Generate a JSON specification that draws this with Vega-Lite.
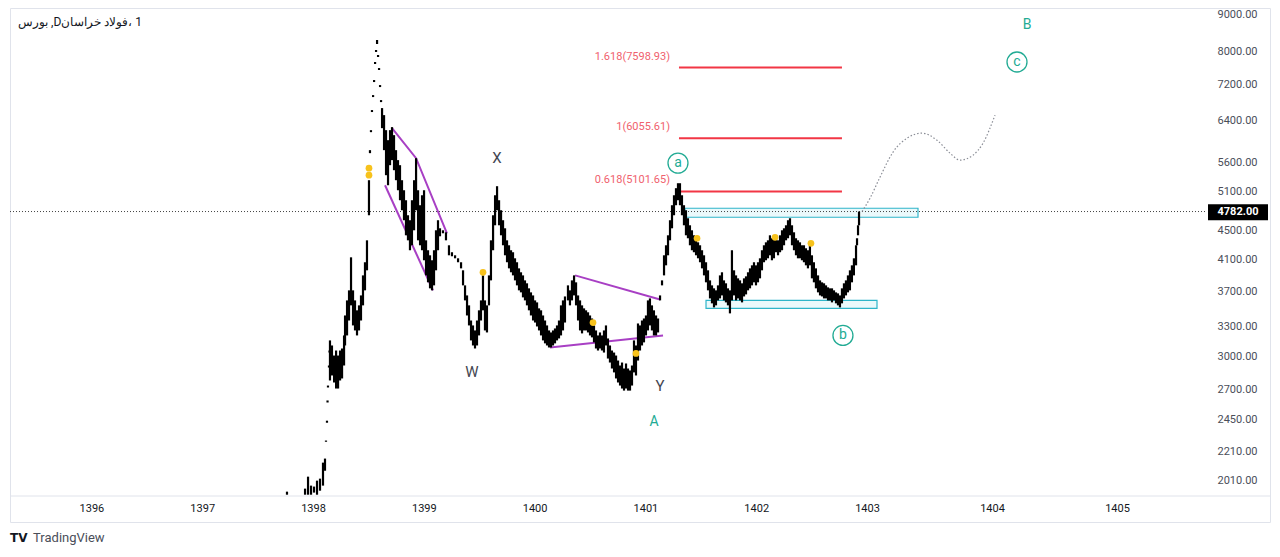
{
  "$schema": "https://vega.github.io/schema/vega-lite/v6.json",
  "width": 1260,
  "height": 514,
  "autosize": {"type": "none"},
  "padding": {"left": 10, "top": 8, "right": 10, "bottom": 35},
  "background": "white",
  "view": {"stroke": "#e0e3eb"},
  "config": {"font": "Roboto"},
  "encoding": {
    "x": {
      "field": "t", "type": "quantitative",
      "scale": {"domain": [1395.265, 1403, 1405.704], "range": [0, 857, 1195], "zero": false, "nice": false},
      "axis": {"title": null, "orient": "bottom", "offset": -26, "values": [1396, 1397, 1398, 1399, 1400, 1401, 1402, 1403, 1404, 1405], "format": "d", "grid": false, "ticks": false, "tickSize": 0, "domain": false, "labelPadding": 6, "labelFontSize": 11, "labelColor": "#131722"}
    },
    "y": {
      "field": "p", "type": "quantitative",
      "scale": {"type": "log", "domain": [1915, 9204], "range": [488, 0], "nice": false},
      "axis": {"title": null, "orient": "right", "offset": -65, "values": [2010, 2210, 2450, 2700, 3000, 3300, 3700, 4100, 4500, 5100, 5600, 6400, 7200, 8000, 9000], "format": ".2f", "grid": false, "ticks": false, "tickSize": 0, "domain": false, "labelPadding": 12, "labelFontSize": 11, "labelColor": "#4a4e59"}
    }
  },
  "layer": [
    {
      "data": {"values": [{"t": 1395.265, "t2": 1406.224, "p": 1915}]},
      "mark": {"type": "rule", "color": "#e0e3eb", "strokeWidth": 1},
      "encoding": {"x2": {"field": "t2"}}
    },
    {
      "data": {"values": [
        {"t": 1401.357, "t2": 1403.408, "p": 4833, "p2": 4695},
        {"t": 1401.547, "t2": 1403.080, "p": 3593, "p2": 3502}
      ]},
      "mark": {"type": "rect", "fill": "#e6f7fa", "fillOpacity": 0.8, "stroke": "#2fb5c9", "strokeWidth": 1.2},
      "encoding": {"x2": {"field": "t2"}, "y2": {"field": "p2"}}
    },
    {
      "data": {"values": [{"t": 1395.265, "t2": 1405.704, "p": 4782}]},
      "mark": {"type": "rule", "color": "#444", "strokeWidth": 1, "strokeDash": [1, 2]},
      "encoding": {"x2": {"field": "t2"}}
    },
    {
      "data": {"values": [
        {"t": 1401.303, "t2": 1402.774, "p": 7598.93},
        {"t": 1401.303, "t2": 1402.774, "p": 6055.61},
        {"t": 1401.303, "t2": 1402.774, "p": 5101.65}
      ]},
      "mark": {"type": "rule", "color": "#f23645", "strokeWidth": 2},
      "encoding": {"x2": {"field": "t2"}}
    },
    {
      "data": {"values": [
        {"t": 1401.222, "p": 7598.93, "label": "1.618(7598.93)"},
        {"t": 1401.222, "p": 6055.61, "label": "1(6055.61)"},
        {"t": 1401.222, "p": 5101.65, "label": "0.618(5101.65)"}
      ]},
      "mark": {"type": "text", "align": "right", "baseline": "middle", "dy": -11, "fontSize": 11, "color": "#f0616d"},
      "encoding": {"text": {"field": "label"}}
    },
    {
      "data": {"values": [
        {"g": "u", "t": 1398.713, "p": 6253},
        {"g": "u", "t": 1398.930, "p": 5678},
        {"g": "u", "t": 1399.209, "p": 4459},
        {"g": "l", "t": 1398.650, "p": 5204},
        {"g": "l", "t": 1399.083, "p": 3711},
        {"g": "tu", "t": 1400.365, "p": 3894},
        {"g": "tu", "t": 1401.132, "p": 3604},
        {"g": "tl", "t": 1400.139, "p": 3088},
        {"g": "tl", "t": 1401.159, "p": 3210}
      ]},
      "mark": {"type": "line", "color": "#a83fc4", "strokeWidth": 2},
      "encoding": {"detail": {"field": "g"}}
    },
    {
      "data": {"values": [
        {"t": 1397.765, "p": 1942, "p2": 1923},
        {"t": 1397.928, "p": 1961, "p2": 1923},
        {"t": 1397.955, "p": 2038, "p2": 1923},
        {"t": 1397.982, "p": 1980, "p2": 1923},
        {"t": 1398.009, "p": 1974, "p2": 1936},
        {"t": 1398.036, "p": 2012, "p2": 1923},
        {"t": 1398.063, "p": 2025, "p2": 1948},
        {"t": 1398.090, "p": 2132, "p2": 1980},
        {"t": 1398.108, "p": 2160, "p2": 2077},
        {"t": 1398.117, "p": 2289, "p2": 2280},
        {"t": 1398.126, "p": 2440, "p2": 2424},
        {"t": 1398.131, "p": 2604, "p2": 2587},
        {"t": 1398.135, "p": 2732, "p2": 2715},
        {"t": 1398.144, "p": 2914, "p2": 2895},
        {"t": 1398.149, "p": 3058, "p2": 3038},
        {"t": 1398.153, "p": 3159, "p2": 2777},
        {"t": 1398.171, "p": 3108, "p2": 2822},
        {"t": 1398.190, "p": 3009, "p2": 2759},
        {"t": 1398.208, "p": 3058, "p2": 2706},
        {"t": 1398.226, "p": 3009, "p2": 2706},
        {"t": 1398.244, "p": 3058, "p2": 2777},
        {"t": 1398.262, "p": 3078, "p2": 2795},
        {"t": 1398.280, "p": 3210, "p2": 2914},
        {"t": 1398.289, "p": 3423, "p2": 3108},
        {"t": 1398.307, "p": 3593, "p2": 3210},
        {"t": 1398.325, "p": 3711, "p2": 3368},
        {"t": 1398.343, "p": 4127, "p2": 3536},
        {"t": 1398.361, "p": 3711, "p2": 3315},
        {"t": 1398.379, "p": 3593, "p2": 3262},
        {"t": 1398.397, "p": 3480, "p2": 3210},
        {"t": 1398.415, "p": 3536, "p2": 3262},
        {"t": 1398.433, "p": 3651, "p2": 3368},
        {"t": 1398.451, "p": 3894, "p2": 3536},
        {"t": 1398.469, "p": 4062, "p2": 3711},
        {"t": 1398.487, "p": 4359, "p2": 3958},
        {"t": 1398.505, "p": 5289, "p2": 4725},
        {"t": 1398.514, "p": 5826, "p2": 5770},
        {"t": 1398.523, "p": 6213, "p2": 6173},
        {"t": 1398.532, "p": 6628, "p2": 6586},
        {"t": 1398.542, "p": 6955, "p2": 6911},
        {"t": 1398.551, "p": 7300, "p2": 7253},
        {"t": 1398.560, "p": 7736, "p2": 7686},
        {"t": 1398.569, "p": 8041, "p2": 7990},
        {"t": 1398.578, "p": 8304, "p2": 8198},
        {"t": 1398.587, "p": 7912, "p2": 7861},
        {"t": 1398.596, "p": 7587, "p2": 7539},
        {"t": 1398.605, "p": 7183, "p2": 7137},
        {"t": 1398.614, "p": 6844, "p2": 6800},
        {"t": 1398.623, "p": 6670, "p2": 6253},
        {"t": 1398.641, "p": 6521, "p2": 5826},
        {"t": 1398.659, "p": 6213, "p2": 5375},
        {"t": 1398.677, "p": 6016, "p2": 5204},
        {"t": 1398.695, "p": 6213, "p2": 5551},
        {"t": 1398.713, "p": 6274, "p2": 5642},
        {"t": 1398.731, "p": 6114, "p2": 5462},
        {"t": 1398.749, "p": 5826, "p2": 5289},
        {"t": 1398.767, "p": 5642, "p2": 5121},
        {"t": 1398.785, "p": 5551, "p2": 4959},
        {"t": 1398.803, "p": 5289, "p2": 4802},
        {"t": 1398.821, "p": 5121, "p2": 4650},
        {"t": 1398.839, "p": 4959, "p2": 4430},
        {"t": 1398.857, "p": 4725, "p2": 4359},
        {"t": 1398.875, "p": 4650, "p2": 4222},
        {"t": 1398.893, "p": 4959, "p2": 4290},
        {"t": 1398.912, "p": 5289, "p2": 4502},
        {"t": 1398.930, "p": 5678, "p2": 4802},
        {"t": 1398.948, "p": 5121, "p2": 4359},
        {"t": 1398.966, "p": 4880, "p2": 4290},
        {"t": 1398.984, "p": 5039, "p2": 4222},
        {"t": 1399.002, "p": 5121, "p2": 4088},
        {"t": 1399.020, "p": 4359, "p2": 3894},
        {"t": 1399.038, "p": 4222, "p2": 3808},
        {"t": 1399.056, "p": 4154, "p2": 3735},
        {"t": 1399.074, "p": 4088, "p2": 3711},
        {"t": 1399.092, "p": 4222, "p2": 3771},
        {"t": 1399.110, "p": 4502, "p2": 3958},
        {"t": 1399.128, "p": 4650, "p2": 4222},
        {"t": 1399.146, "p": 4531, "p2": 4416},
        {"t": 1399.173, "p": 4502, "p2": 4459},
        {"t": 1399.200, "p": 4473, "p2": 4359},
        {"t": 1399.227, "p": 4290, "p2": 4154},
        {"t": 1399.254, "p": 4195, "p2": 4141},
        {"t": 1399.282, "p": 4154, "p2": 4114},
        {"t": 1399.309, "p": 4114, "p2": 4062},
        {"t": 1399.336, "p": 4062, "p2": 3983},
        {"t": 1399.354, "p": 3958, "p2": 3771},
        {"t": 1399.372, "p": 3771, "p2": 3593},
        {"t": 1399.390, "p": 3651, "p2": 3423},
        {"t": 1399.408, "p": 3536, "p2": 3315},
        {"t": 1399.426, "p": 3368, "p2": 3159},
        {"t": 1399.444, "p": 3315, "p2": 3108},
        {"t": 1399.462, "p": 3262, "p2": 3078},
        {"t": 1399.480, "p": 3368, "p2": 3108},
        {"t": 1399.498, "p": 3480, "p2": 3210},
        {"t": 1399.516, "p": 3593, "p2": 3368},
        {"t": 1399.534, "p": 3894, "p2": 3480},
        {"t": 1399.552, "p": 3593, "p2": 3262},
        {"t": 1399.570, "p": 3536, "p2": 3241},
        {"t": 1399.588, "p": 3894, "p2": 3536},
        {"t": 1399.606, "p": 4359, "p2": 3832},
        {"t": 1399.625, "p": 4725, "p2": 4222},
        {"t": 1399.643, "p": 5039, "p2": 4575},
        {"t": 1399.661, "p": 5188, "p2": 4802},
        {"t": 1399.679, "p": 4959, "p2": 4575},
        {"t": 1399.697, "p": 4802, "p2": 4430},
        {"t": 1399.715, "p": 4650, "p2": 4290},
        {"t": 1399.733, "p": 4531, "p2": 4154},
        {"t": 1399.751, "p": 4359, "p2": 4062},
        {"t": 1399.769, "p": 4290, "p2": 3983},
        {"t": 1399.787, "p": 4222, "p2": 3933},
        {"t": 1399.805, "p": 4195, "p2": 3894},
        {"t": 1399.823, "p": 4114, "p2": 3832},
        {"t": 1399.841, "p": 4062, "p2": 3771},
        {"t": 1399.859, "p": 3983, "p2": 3711},
        {"t": 1399.877, "p": 3933, "p2": 3687},
        {"t": 1399.895, "p": 3894, "p2": 3628},
        {"t": 1399.913, "p": 3832, "p2": 3593},
        {"t": 1399.931, "p": 3796, "p2": 3536},
        {"t": 1399.949, "p": 3735, "p2": 3480},
        {"t": 1399.967, "p": 3687, "p2": 3423},
        {"t": 1399.986, "p": 3651, "p2": 3368},
        {"t": 1400.004, "p": 3593, "p2": 3346},
        {"t": 1400.022, "p": 3570, "p2": 3304},
        {"t": 1400.040, "p": 3502, "p2": 3262},
        {"t": 1400.058, "p": 3480, "p2": 3210},
        {"t": 1400.076, "p": 3423, "p2": 3159},
        {"t": 1400.094, "p": 3368, "p2": 3129},
        {"t": 1400.112, "p": 3315, "p2": 3108},
        {"t": 1400.130, "p": 3262, "p2": 3088},
        {"t": 1400.148, "p": 3241, "p2": 3088},
        {"t": 1400.166, "p": 3262, "p2": 3108},
        {"t": 1400.184, "p": 3283, "p2": 3129},
        {"t": 1400.202, "p": 3315, "p2": 3159},
        {"t": 1400.220, "p": 3368, "p2": 3179},
        {"t": 1400.238, "p": 3536, "p2": 3210},
        {"t": 1400.256, "p": 3593, "p2": 3262},
        {"t": 1400.274, "p": 3639, "p2": 3346},
        {"t": 1400.301, "p": 3771, "p2": 3593},
        {"t": 1400.319, "p": 3711, "p2": 3536},
        {"t": 1400.337, "p": 3832, "p2": 3593},
        {"t": 1400.356, "p": 3894, "p2": 3651},
        {"t": 1400.374, "p": 3808, "p2": 3536},
        {"t": 1400.392, "p": 3651, "p2": 3368},
        {"t": 1400.410, "p": 3593, "p2": 3262},
        {"t": 1400.428, "p": 3536, "p2": 3231},
        {"t": 1400.446, "p": 3502, "p2": 3262},
        {"t": 1400.464, "p": 3480, "p2": 3262},
        {"t": 1400.482, "p": 3458, "p2": 3241},
        {"t": 1400.500, "p": 3423, "p2": 3210},
        {"t": 1400.518, "p": 3390, "p2": 3190},
        {"t": 1400.536, "p": 3315, "p2": 3139},
        {"t": 1400.554, "p": 3262, "p2": 3078},
        {"t": 1400.572, "p": 3210, "p2": 3058},
        {"t": 1400.590, "p": 3241, "p2": 3078},
        {"t": 1400.608, "p": 3210, "p2": 3058},
        {"t": 1400.626, "p": 3262, "p2": 3038},
        {"t": 1400.644, "p": 3315, "p2": 3108},
        {"t": 1400.662, "p": 3179, "p2": 2980},
        {"t": 1400.680, "p": 3108, "p2": 2942},
        {"t": 1400.698, "p": 3058, "p2": 2886},
        {"t": 1400.717, "p": 3038, "p2": 2850},
        {"t": 1400.735, "p": 3009, "p2": 2795},
        {"t": 1400.753, "p": 2961, "p2": 2759},
        {"t": 1400.771, "p": 2914, "p2": 2732},
        {"t": 1400.789, "p": 2942, "p2": 2706},
        {"t": 1400.807, "p": 2886, "p2": 2688},
        {"t": 1400.825, "p": 2933, "p2": 2706},
        {"t": 1400.843, "p": 2886, "p2": 2688},
        {"t": 1400.861, "p": 2868, "p2": 2688},
        {"t": 1400.879, "p": 2914, "p2": 2732},
        {"t": 1400.897, "p": 3159, "p2": 2850},
        {"t": 1400.915, "p": 3108, "p2": 2822},
        {"t": 1400.933, "p": 3336, "p2": 2961},
        {"t": 1400.951, "p": 3315, "p2": 3058},
        {"t": 1400.969, "p": 3368, "p2": 3108},
        {"t": 1400.987, "p": 3390, "p2": 3139},
        {"t": 1401.005, "p": 3423, "p2": 3210},
        {"t": 1401.023, "p": 3593, "p2": 3262},
        {"t": 1401.041, "p": 3616, "p2": 3315},
        {"t": 1401.059, "p": 3536, "p2": 3262},
        {"t": 1401.077, "p": 3480, "p2": 3210},
        {"t": 1401.096, "p": 3423, "p2": 3210},
        {"t": 1401.114, "p": 3390, "p2": 3241},
        {"t": 1401.132, "p": 3651, "p2": 3593},
        {"t": 1401.150, "p": 3832, "p2": 3771},
        {"t": 1401.168, "p": 4154, "p2": 3894},
        {"t": 1401.186, "p": 4290, "p2": 4022},
        {"t": 1401.204, "p": 4430, "p2": 4154},
        {"t": 1401.222, "p": 4650, "p2": 4359},
        {"t": 1401.240, "p": 4880, "p2": 4531},
        {"t": 1401.258, "p": 5039, "p2": 4725},
        {"t": 1401.276, "p": 5155, "p2": 4880},
        {"t": 1401.294, "p": 5238, "p2": 4959},
        {"t": 1401.312, "p": 5238, "p2": 4880},
        {"t": 1401.330, "p": 5039, "p2": 4725},
        {"t": 1401.348, "p": 4880, "p2": 4575},
        {"t": 1401.366, "p": 4802, "p2": 4430},
        {"t": 1401.384, "p": 4680, "p2": 4388},
        {"t": 1401.402, "p": 4575, "p2": 4290},
        {"t": 1401.420, "p": 4502, "p2": 4222},
        {"t": 1401.438, "p": 4430, "p2": 4195},
        {"t": 1401.457, "p": 4388, "p2": 4154},
        {"t": 1401.475, "p": 4331, "p2": 4114},
        {"t": 1401.493, "p": 4290, "p2": 4062},
        {"t": 1401.511, "p": 4222, "p2": 3983},
        {"t": 1401.529, "p": 4154, "p2": 3894},
        {"t": 1401.547, "p": 4062, "p2": 3808},
        {"t": 1401.565, "p": 3958, "p2": 3711},
        {"t": 1401.583, "p": 3832, "p2": 3616},
        {"t": 1401.601, "p": 3771, "p2": 3559},
        {"t": 1401.619, "p": 3735, "p2": 3513},
        {"t": 1401.637, "p": 3711, "p2": 3536},
        {"t": 1401.655, "p": 3771, "p2": 3593},
        {"t": 1401.673, "p": 3894, "p2": 3616},
        {"t": 1401.691, "p": 3933, "p2": 3651},
        {"t": 1401.709, "p": 3832, "p2": 3593},
        {"t": 1401.727, "p": 3796, "p2": 3570},
        {"t": 1401.745, "p": 3735, "p2": 3536},
        {"t": 1401.763, "p": 3711, "p2": 3446},
        {"t": 1401.781, "p": 4222, "p2": 3593},
        {"t": 1401.800, "p": 3958, "p2": 3651},
        {"t": 1401.818, "p": 3894, "p2": 3593},
        {"t": 1401.836, "p": 3857, "p2": 3616},
        {"t": 1401.854, "p": 3832, "p2": 3593},
        {"t": 1401.872, "p": 3796, "p2": 3570},
        {"t": 1401.890, "p": 3857, "p2": 3639},
        {"t": 1401.908, "p": 3882, "p2": 3663},
        {"t": 1401.926, "p": 3933, "p2": 3711},
        {"t": 1401.944, "p": 3983, "p2": 3735},
        {"t": 1401.962, "p": 4022, "p2": 3771},
        {"t": 1401.980, "p": 4062, "p2": 3808},
        {"t": 1401.998, "p": 4022, "p2": 3771},
        {"t": 1402.016, "p": 4062, "p2": 3808},
        {"t": 1402.034, "p": 4114, "p2": 3857},
        {"t": 1402.052, "p": 4222, "p2": 3958},
        {"t": 1402.070, "p": 4290, "p2": 4062},
        {"t": 1402.088, "p": 4331, "p2": 4088},
        {"t": 1402.106, "p": 4359, "p2": 4114},
        {"t": 1402.124, "p": 4430, "p2": 4154},
        {"t": 1402.142, "p": 4388, "p2": 4088},
        {"t": 1402.160, "p": 4388, "p2": 4114},
        {"t": 1402.179, "p": 4430, "p2": 4195},
        {"t": 1402.197, "p": 4359, "p2": 4154},
        {"t": 1402.215, "p": 4430, "p2": 4195},
        {"t": 1402.233, "p": 4502, "p2": 4222},
        {"t": 1402.251, "p": 4531, "p2": 4290},
        {"t": 1402.269, "p": 4575, "p2": 4359},
        {"t": 1402.287, "p": 4650, "p2": 4388},
        {"t": 1402.305, "p": 4680, "p2": 4430},
        {"t": 1402.323, "p": 4575, "p2": 4290},
        {"t": 1402.341, "p": 4473, "p2": 4222},
        {"t": 1402.359, "p": 4388, "p2": 4154},
        {"t": 1402.377, "p": 4359, "p2": 4114},
        {"t": 1402.395, "p": 4331, "p2": 4114},
        {"t": 1402.413, "p": 4290, "p2": 4088},
        {"t": 1402.431, "p": 4290, "p2": 4062},
        {"t": 1402.449, "p": 4249, "p2": 4022},
        {"t": 1402.467, "p": 4222, "p2": 3983},
        {"t": 1402.485, "p": 4290, "p2": 4022},
        {"t": 1402.503, "p": 4154, "p2": 3857},
        {"t": 1402.521, "p": 4062, "p2": 3808},
        {"t": 1402.539, "p": 3983, "p2": 3735},
        {"t": 1402.558, "p": 3894, "p2": 3687},
        {"t": 1402.576, "p": 3832, "p2": 3651},
        {"t": 1402.594, "p": 3808, "p2": 3639},
        {"t": 1402.612, "p": 3796, "p2": 3616},
        {"t": 1402.630, "p": 3771, "p2": 3616},
        {"t": 1402.648, "p": 3747, "p2": 3593},
        {"t": 1402.666, "p": 3735, "p2": 3593},
        {"t": 1402.684, "p": 3735, "p2": 3570},
        {"t": 1402.702, "p": 3711, "p2": 3593},
        {"t": 1402.720, "p": 3687, "p2": 3559},
        {"t": 1402.738, "p": 3675, "p2": 3536},
        {"t": 1402.756, "p": 3651, "p2": 3513},
        {"t": 1402.774, "p": 3735, "p2": 3559},
        {"t": 1402.792, "p": 3796, "p2": 3616},
        {"t": 1402.810, "p": 3832, "p2": 3651},
        {"t": 1402.828, "p": 3894, "p2": 3687},
        {"t": 1402.846, "p": 3958, "p2": 3711},
        {"t": 1402.864, "p": 4022, "p2": 3808},
        {"t": 1402.882, "p": 4114, "p2": 3894},
        {"t": 1402.901, "p": 4290, "p2": 4022},
        {"t": 1402.910, "p": 4388, "p2": 4290},
        {"t": 1402.919, "p": 4575, "p2": 4430},
        {"t": 1402.928, "p": 4782, "p2": 4575}
      ]},
      "mark": {"type": "rule", "color": "#000000", "strokeWidth": 2.2},
      "encoding": {"y2": {"field": "p2"}}
    },
    {
      "data": {"values": [
        {"t": 1402.955, "p": 4782},
        {"t": 1403.024, "p": 4991},
        {"t": 1403.104, "p": 5341},
        {"t": 1403.208, "p": 5789},
        {"t": 1403.320, "p": 6055},
        {"t": 1403.440, "p": 6153},
        {"t": 1403.560, "p": 6016},
        {"t": 1403.664, "p": 5770},
        {"t": 1403.744, "p": 5642},
        {"t": 1403.848, "p": 5733},
        {"t": 1403.928, "p": 5958},
        {"t": 1404.024, "p": 6521}
      ]},
      "mark": {"type": "line", "color": "#8a8d96", "strokeWidth": 1.2, "strokeDash": [1.5, 2], "interpolate": "monotone"}
    },
    {
      "data": {"values": [
        {"t": 1398.505, "p": 5498},
        {"t": 1398.505, "p": 5375},
        {"t": 1399.534, "p": 3933},
        {"t": 1400.527, "p": 3346},
        {"t": 1400.915, "p": 3029},
        {"t": 1401.466, "p": 4388},
        {"t": 1402.170, "p": 4402},
        {"t": 1402.494, "p": 4317}
      ]},
      "mark": {"type": "point", "shape": "circle", "filled": true, "color": "#f7c21c", "size": 45, "opacity": 1}
    },
    {
      "data": {"values": [
        {"t": 1401.294, "p": 5588, "label": "a"},
        {"t": 1402.783, "p": 3210, "label": "b"},
        {"t": 1404.200, "p": 7736, "label": "c"}
      ]},
      "mark": {"type": "point", "shape": "circle", "filled": true, "fill": "white", "stroke": "#22ab94", "strokeWidth": 1.3, "size": 400, "opacity": 1}
    },
    {
      "data": {"values": [
        {"t": 1401.294, "p": 5588, "label": "a"},
        {"t": 1402.783, "p": 3210, "label": "b"},
        {"t": 1404.200, "p": 7736, "label": "c"},
        {"t": 1401.077, "p": 2432, "label": "A"},
        {"t": 1404.280, "p": 8715, "label": "B"}
      ]},
      "mark": {"type": "text", "align": "center", "baseline": "middle", "fontSize": 14, "color": "#22ab94"},
      "encoding": {"text": {"field": "label"}}
    },
    {
      "data": {"values": [
        {"t": 1399.661, "p": 5678, "label": "X"},
        {"t": 1399.435, "p": 2850, "label": "W"},
        {"t": 1401.132, "p": 2732, "label": "Y"}
      ]},
      "mark": {"type": "text", "align": "center", "baseline": "middle", "fontSize": 15, "color": "#434651"},
      "encoding": {"text": {"field": "label"}}
    },
    {
      "data": {"values": [{"t": 1405.728, "t2": 1406.208, "p": 4896, "p2": 4650}]},
      "mark": {"type": "rect", "color": "#000000"},
      "encoding": {"x2": {"field": "t2"}, "y2": {"field": "p2"}}
    },
    {
      "data": {"values": [{"t": 1405.968, "p": 4782, "label": "4782.00"}]},
      "mark": {"type": "text", "align": "center", "baseline": "middle", "fontSize": 11, "fontWeight": "bold", "color": "white"},
      "encoding": {"text": {"field": "label"}}
    },
    {
      "data": {"values": [{"t": 1395.338, "p": 8800, "label": "بورس ,Dفولاد خراسان\u200E، 1"}]},
      "mark": {"type": "text", "align": "left", "baseline": "middle", "fontSize": 12, "color": "#131722"},
      "encoding": {"text": {"field": "label"}}
    },
    {
      "data": {"values": [{"t": 1395.265, "p": 1673, "label": "TV"}]},
      "mark": {"type": "text", "align": "left", "baseline": "middle", "font": "DejaVu Sans", "fontSize": 12, "fontWeight": "bold", "color": "#131722"},
      "encoding": {"text": {"field": "label"}}
    },
    {
      "data": {"values": [{"t": 1395.473, "p": 1673, "label": "TradingView"}]},
      "mark": {"type": "text", "align": "left", "baseline": "middle", "fontSize": 13, "color": "#4a4e59"},
      "encoding": {"text": {"field": "label"}}
    }
  ]
}
